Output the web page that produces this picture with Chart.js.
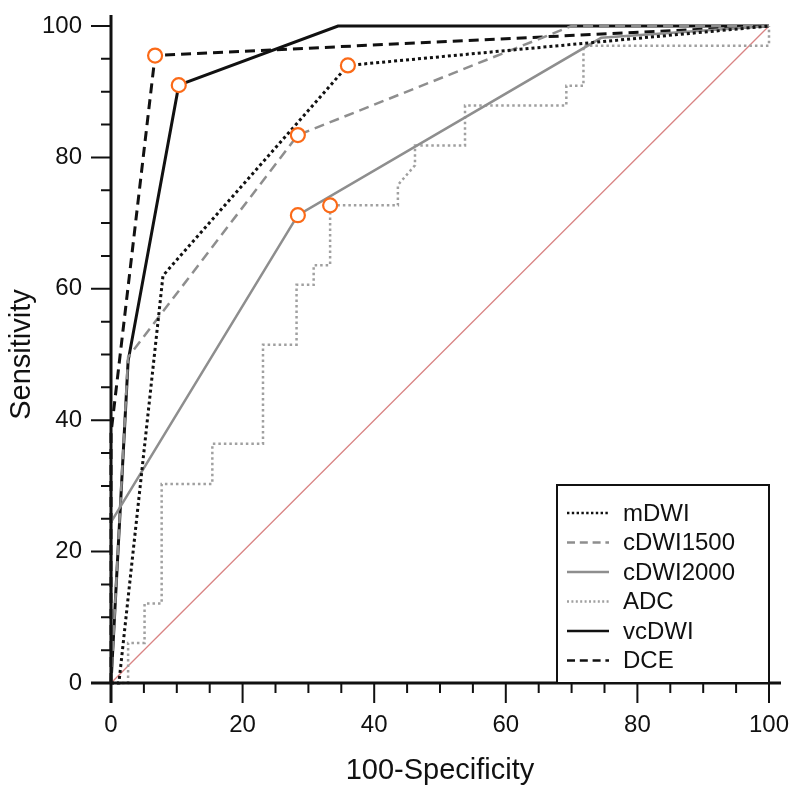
<!DOCTYPE html>
<html>
<head>
<meta charset="utf-8">
<script src="https://cdn.jsdelivr.net/npm/chart.js@4.4.1/dist/chart.umd.min.js"></script>
<style>
  body { margin: 0; background: #fff; }
  #wrap { width: 800px; height: 793px; }
</style>
</head>
<body>
<div id="wrap"><canvas id="roc" width="800" height="793"></canvas></div>
<script>
// ROC curves: x = 100-Specificity, y = Sensitivity
const mdwiX = [0, 1.2, 7.9, 36, 100];
const mdwiY = [0, 0, 62, 94, 100];

const cdwi1500X = [0, 2.6, 28.4, 70, 100];
const cdwi1500Y = [0, 49.6, 83.4, 100, 100];

const cdwi2000X = [0, 0, 28.4, 74.5, 100];
const cdwi2000Y = [0, 24.5, 71.2, 98.2, 100];

const adcX = [0, 2.6, 2.6, 5.1, 5.1, 7.7, 7.7, 15.4, 15.4, 23.1, 23.1, 28.2, 28.2, 30.8, 30.8, 33.3, 33.3,
  43.6, 43.6, 46.2, 46.2, 53.8, 53.8, 69.2, 69.2, 71.8, 71.8, 100, 100];
const adcY = [0, 0, 6.1, 6.1, 12.1, 12.1, 30.3, 30.3, 36.4, 36.4, 51.5, 51.5, 60.6, 60.6, 63.6, 63.6, 72.7,
  72.7, 75.8, 78.8, 81.8, 81.8, 87.9, 87.9, 90.9, 90.9, 97.0, 97.0, 100];

const vcdwiX = [0, 2.6, 10.3, 34.5, 100];
const vcdwiY = [0, 49, 91, 100, 100];

const dceX = [0, 0, 6.7, 100];
const dceY = [0, 38, 95.5, 100];

// optimal cut-off points (same order as legend)
const cutX = [36, 28.4, 28.4, 33.3, 10.3, 6.7];
const cutY = [94, 83.4, 71.2, 72.7, 91, 95.5];

const diagX = [0, 100];
const diagY = [0, 100];

const xTicks = [0, 20, 40, 60, 80, 100];
const yTicks = [0, 20, 40, 60, 80, 100];

function pts(xs, ys) {
  return xs.map((x, i) => ({ x: x, y: ys[i] }));
}

Chart.defaults.font.family = '"Liberation Sans", Arial, sans-serif';
Chart.defaults.color = "#111";

const curves = [
  { label: "mDWI", data: pts(mdwiX, mdwiY), borderColor: "#111", borderWidth: 3, borderDash: [3, 3] },
  { label: "cDWI1500", data: pts(cdwi1500X, cdwi1500Y), borderColor: "#8e8e8e", borderWidth: 2.5, borderDash: [10, 6] },
  { label: "cDWI2000", data: pts(cdwi2000X, cdwi2000Y), borderColor: "#8e8e8e", borderWidth: 2.5, borderDash: [] },
  { label: "ADC", data: pts(adcX, adcY), borderColor: "#a0a0a0", borderWidth: 2.5, borderDash: [2.5, 3] },
  { label: "vcDWI", data: pts(vcdwiX, vcdwiY), borderColor: "#111", borderWidth: 3, borderDash: [] },
  { label: "DCE", data: pts(dceX, dceY), borderColor: "#111", borderWidth: 3, borderDash: [10, 6] },
];

// axis lines + major/minor ticks, drawn from the scales
const axesPlugin = {
  id: "axesPlugin",
  afterDatasetsDraw(chart) {
    const ctx = chart.ctx;
    const xs = chart.scales.x, ys = chart.scales.y;
    const x0 = xs.getPixelForValue(0), x1 = xs.getPixelForValue(100);
    const y0 = ys.getPixelForValue(0), y1 = ys.getPixelForValue(100);
    ctx.save();
    ctx.strokeStyle = "#111";
    ctx.lineWidth = 3;
    ctx.beginPath();
    ctx.moveTo(x0 - 20, y0); ctx.lineTo(x1 + 12, y0);
    ctx.moveTo(x0, y1 - 11); ctx.lineTo(x0, y0 + 20);
    ctx.stroke();
    ctx.lineWidth = 2;
    ctx.beginPath();
    for (let v = 0; v <= 100; v += 5) {
      const len = v % 20 === 0 ? 20 : 10;
      const px = xs.getPixelForValue(v);
      ctx.moveTo(px, y0); ctx.lineTo(px, y0 + len);
      const py = ys.getPixelForValue(v);
      ctx.moveTo(x0, py); ctx.lineTo(x0 - len, py);
    }
    ctx.stroke();
    ctx.restore();
  },
  afterDraw(chart) {
    // legend box in the lower right corner of the plot
    const ctx = chart.ctx;
    const area = chart.chartArea;
    const w = 212, h = 198;
    const left = area.right - w, top = area.bottom - h;
    ctx.save();
    ctx.fillStyle = "#fff";
    ctx.fillRect(left, top, w, h);
    ctx.strokeStyle = "#111";
    ctx.lineWidth = 2;
    ctx.strokeRect(left, top, w, h);
    ctx.font = '24px "Liberation Sans", Arial, sans-serif';
    ctx.textBaseline = "middle";
    curves.forEach((c, i) => {
      const y = top + 28 + i * 29.5;
      ctx.strokeStyle = c.borderColor;
      ctx.lineWidth = 2.5;
      ctx.setLineDash(c.borderDash.length ? c.borderDash.map((d) => d * 0.8) : []);
      ctx.beginPath();
      ctx.moveTo(left + 10, y);
      ctx.lineTo(left + 52, y);
      ctx.stroke();
      ctx.setLineDash([]);
      ctx.fillStyle = "#111";
      ctx.fillText(c.label, left + 66, y + 1);
    });
    ctx.restore();
  },
};

const datasets = [
  {
    label: "cutoff",
    data: pts(cutX, cutY),
    showLine: false,
    pointRadius: 7,
    pointBorderWidth: 2.2,
    pointBorderColor: "#fb6a18",
    pointBackgroundColor: "#fff",
  },
].concat(
  curves.map((c) => ({
    label: c.label,
    data: c.data,
    showLine: true,
    pointRadius: 0,
    borderColor: c.borderColor,
    borderWidth: c.borderWidth,
    borderDash: c.borderDash,
    tension: 0,
  })),
  [
    {
      label: "diagonal",
      data: pts(diagX, diagY),
      showLine: true,
      pointRadius: 0,
      borderColor: "#d98484",
      borderWidth: 1.3,
      borderDash: [],
    },
  ]
);

new Chart(document.getElementById("roc"), {
  type: "scatter",
  data: { datasets: datasets },
  options: {
    responsive: false,
    animation: false,
    clip: false,
    layout: { padding: { top: 26, right: 31, left: 0, bottom: 0 } },
    plugins: { legend: { display: false }, tooltip: { enabled: false } },
    scales: {
      x: {
        type: "linear",
        min: 0,
        max: 100,
        afterFit: (s) => { s.height = 110; },
        afterBuildTicks: (s) => { s.ticks = xTicks.map((v) => ({ value: v })); },
        grid: { display: true, drawOnChartArea: false, drawTicks: true, tickLength: 20, tickColor: "transparent" },
        border: { display: false },
        ticks: { font: { size: 24 }, padding: 8, maxRotation: 0 },
        title: { display: true, text: "100-Specificity", font: { size: 29 }, padding: { top: 4, bottom: 5 } },
      },
      y: {
        type: "linear",
        min: 0,
        max: 100,
        afterFit: (s) => { s.width = 111; },
        afterBuildTicks: (s) => { s.ticks = yTicks.map((v) => ({ value: v })); },
        grid: { display: true, drawOnChartArea: false, drawTicks: true, tickLength: 20, tickColor: "transparent" },
        border: { display: false },
        ticks: { font: { size: 24 }, padding: 9 },
        title: { display: true, text: "Sensitivity", font: { size: 29 }, padding: { top: 5, bottom: 4 } },
      },
    },
  },
  plugins: [axesPlugin],
});
</script>
</body>
</html>
